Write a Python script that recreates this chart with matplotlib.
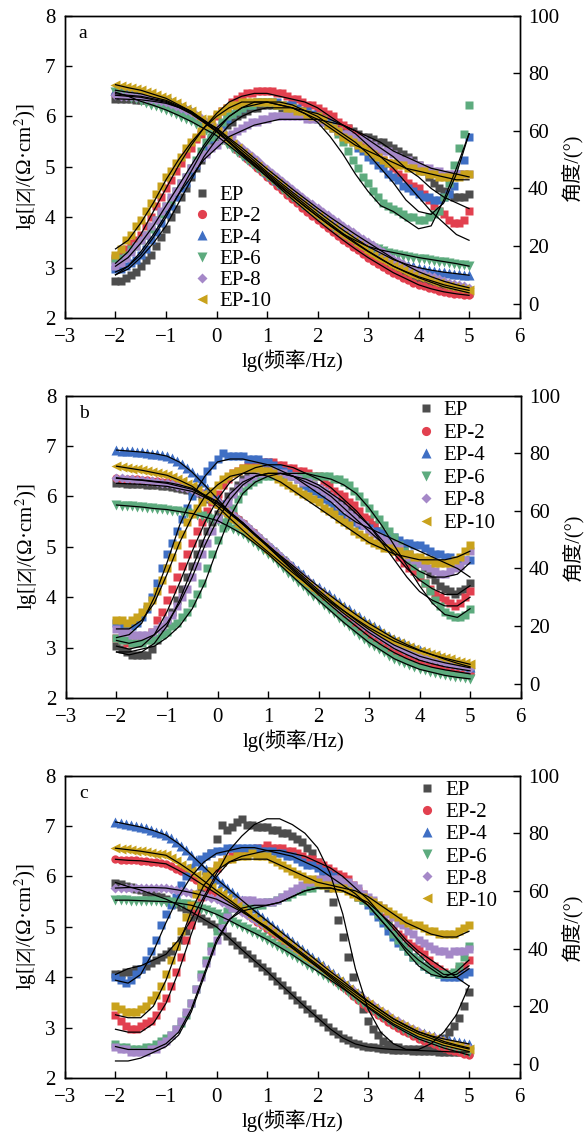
import numpy as np
import matplotlib
matplotlib.use("Agg")
import matplotlib.pyplot as plt
from matplotlib.lines import Line2D

plt.rcParams['font.family'] = ['Liberation Serif', 'Noto Sans CJK SC']
plt.rcParams['mathtext.fontset'] = 'stix'
plt.rcParams['axes.unicode_minus'] = True

# measurement grid (lg f) and fit-curve grid
lgf = np.linspace(-2, 5, 71)
lgf_fit = np.linspace(-2, 5, 29)

labels = ['EP', 'EP-2', 'EP-4', 'EP-6', 'EP-8', 'EP-10']
colors = ['#4d4d4d', '#e2404f', '#3f6fc4', '#5dab7e', '#a588c8', '#c9a21c']
zmarkers = ['s', 'o', '^', 'v', 'D', '<']
zsizes = [5.6, 6.0, 6.6, 6.6, 5.0, 6.6]

# ---------------- panel a : lg|Z| x100 ----------------
a_z_ep = [635,635,634,634,633, 633,632,631,629,628, 626,623,620,616,611, 605,598,591,584,577, 570,562,553,545,536, 528,520,512,503,495, 487,479,470,462,454, 446,438,430,422,414, 406,398,390,383,375, 368,361,354,347,340, 333,327,321,315,309, 303,298,293,289,284, 280,276,272,269,265, 262,259,257,255,252, 250]
a_z_ep2 = [645,644,643,642,641, 640,638,636,634,632, 630,626,621,616,612, 607,600,592,585,577, 570,561,552,543,534, 525,516,507,498,489, 480,471,462,454,445, 436,428,419,411,402, 394,386,378,370,363, 355,348,341,334,327, 320,314,308,302,296, 290,285,280,275,270, 266,263,260,257,254, 252,250,248,247,246, 245]
a_z_ep4 = [652,651,649,648,646, 645,642,640,637,635, 632,628,623,619,614, 610,603,596,589,582, 575,567,558,550,541, 533,524,516,507,499, 490,482,474,466,458, 450,442,435,427,420, 412,405,397,390,382, 375,368,362,355,349, 342,337,331,326,321, 316,313,309,306,303, 300,298,296,294,292, 291,290,288,287,286, 285]
a_z_ep6 = [648,644,641,637,634, 630,627,623,620,616, 613,608,604,599,595, 590,584,579,573,568, 562,554,546,538,530, 522,514,506,497,489, 481,473,465,457,449, 441,433,425,418,410, 402,395,388,381,374, 367,361,356,351,346, 342,339,336,333,330, 328,326,324,322,320, 318,317,315,314,312, 311,309,308,306,305, 303]
a_z_ep8 = [642,641,640,640,639, 638,636,634,632,630, 628,624,620,616,612, 608,602,596,589,583, 577,569,561,554,546, 538,530,521,513,504, 496,488,480,472,464, 456,448,441,433,426, 418,411,404,397,390, 383,376,370,363,357, 350,344,337,331,324, 318,313,308,302,297, 292,288,284,281,277, 273,270,268,265,263, 260]
a_z_ep10 = [663,661,659,656,654, 652,649,646,642,639, 636,631,626,620,615, 610,602,595,587,580, 572,563,554,546,537, 528,519,510,502,493, 484,476,467,459,450, 442,434,426,418,410, 402,395,387,380,372, 365,358,352,345,339, 332,326,320,315,309, 303,299,295,290,286, 282,279,276,272,269, 266,264,262,259,257, 255]
# panel a : phase angle (deg)
a_p_ep = [8,8,9,10,11, 13,15,17,20,23, 26,30,33,37,40, 44,47,50,53,55, 58,60,62,63,65, 66,67,68,68,69, 69,69,69,68,68, 68,67,67,66,65, 65,64,64,63,62, 61,61,60,59,58, 58,57,56,56,55, 54,53,52,51,50, 48,46,44,42,40, 39,38,37,37,37, 38]
a_p_ep2 = [16,17,19,21,22, 24,27,30,34,37, 40,43,46,49,52, 54,57,59,61,63, 65,67,68,70,71, 72,73,73,74,74, 74,74,73,73,72, 71,71,70,69,69, 68,67,66,65,63, 62,61,59,58,56, 55,53,52,50,49, 47,45,44,42,41, 40,38,36,34,32, 31,29,28,28,29, 32]
a_p_ep4 = [12,12,13,14,15, 17,19,22,25,28, 31,34,37,40,42, 45,48,51,54,57, 60,62,64,66,67, 68,69,69,70,70, 70,70,70,69,69, 69,68,67,67,66, 65,64,63,62,60, 59,58,56,54,53, 51,50,48,47,45, 44,43,41,40,39, 38,37,37,36,36, 37,38,41,45,50, 58]
a_p_ep6 = [15,16,17,19,20, 22,24,26,29,31, 34,36,39,42,44, 47,50,53,56,58, 61,63,65,66,67, 68,69,69,70,70, 70,70,69,69,68, 68,67,66,65,65, 64,63,62,61,59, 56,53,50,47,44, 42,39,37,35,34, 33,32,31,30,30, 29,29,30,31,32, 37,42,48,54,59, 69]
a_p_ep8 = [13,14,16,18,20, 22,24,27,29,32, 34,37,39,42,44, 47,49,51,52,54, 55,57,58,59,60, 61,62,63,63,64, 64,65,65,65,65, 65,65,65,64,64, 64,63,62,61,60, 59,59,58,57,57, 56,55,54,53,53, 52,51,50,50,49, 48,47,47,46,46, 45,45,45,45,45, 45]
a_p_ep10 = [17,19,22,24,27, 29,32,35,38,41, 44,46,49,51,54, 56,58,60,62,64, 66,67,68,69,69, 70,70,70,70,70, 70,70,69,69,68, 68,67,67,66,65, 65,64,62,61,60, 58,57,56,55,54, 53,52,51,50,49, 49,48,48,47,47, 46,46,45,45,44, 44,44,44,44,45, 45]
# panel a : fitted curves
a_fz_ep = [635,634,633,630,626,618,605,588,570,549,528,508,487,466,446,426,406,387,368,350,333,318,303,291,280,271,262,256,250]
a_fz_ep2 = [645,642,640,635,630,619,607,589,570,548,525,503,480,458,436,415,394,374,355,337,320,305,290,278,266,258,252,248,245]
a_fz_ep4 = [652,648,645,638,632,621,610,593,575,554,533,512,490,470,450,431,412,393,375,358,342,329,316,307,300,295,291,288,285]
a_fz_ep6 = [648,640,630,622,613,602,590,576,562,542,522,501,481,461,441,421,402,384,367,354,342,335,330,325,320,316,312,308,303]
a_fz_ep8 = [642,640,638,633,628,618,608,592,577,557,538,517,496,476,456,437,418,400,383,366,350,334,318,305,292,282,273,266,260]
a_fz_ep10 = [663,657,652,644,636,623,610,591,572,550,528,506,484,463,442,422,402,383,365,348,332,317,303,292,282,274,266,260,255]
a_fp_ep = [10,12,16,21,27,35,43,51,57,62,65,67,68,68,68,67,66,64,62,60,57,54,51,47,44,40,37,35,33]
a_fp_ep2 = [14,18,24,32,40,48,55,61,66,70,72,73,73,72,71,70,68,65,62,59,55,51,47,42,37,32,28,24,22]
a_fp_ep4 = [11,13,17,23,30,38,46,54,60,65,68,70,70,70,69,67,65,62,59,56,52,47,42,36,32,31,35,45,59]
a_fp_ep6 = [13,16,21,27,34,41,48,55,61,65,68,69,70,69,68,66,63,58,52,45,39,34,32,29,26,27,36,47,59]
a_fp_ep8 = [10,13,18,24,31,38,44,50,54,58,60,62,63,64,64,64,64,63,62,60,58,56,53,51,49,47,46,45,44]
a_fp_ep10 = [19,22,28,35,43,50,56,61,65,68,70,70,70,69,68,66,64,61,58,55,53,51,49,47,46,45,44,43,43]

# ---------------- panel b ----------------
b_z_ep = [626,626,625,625,624, 624,623,622,622,621, 620,618,616,614,612, 610,606,601,595,590, 585,577,569,561,553, 545,536,527,518,509, 500,491,482,473,464, 455,446,437,428,419, 410,401,393,384,376, 368,360,353,345,338, 330,324,317,311,304, 298,293,289,284,280, 275,272,270,267,265, 262,260,259,257,256, 254]
b_z_ep2 = [636,635,635,634,634, 633,632,631,630,629, 628,626,624,622,619, 616,612,606,601,596, 590,582,573,565,556, 548,538,529,519,510, 500,490,481,471,462, 452,443,433,424,414, 405,396,388,379,371, 362,354,346,338,330, 322,315,309,302,296, 290,285,281,276,272, 268,265,263,260,258, 256,254,253,251,250, 248]
b_z_ep4 = [692,691,690,690,689, 688,687,685,684,682, 680,676,671,665,657, 648,638,628,617,606, 595,585,574,564,555, 545,537,528,520,511, 503,495,487,478,470, 462,454,446,437,429, 421,413,406,398,391, 383,376,369,362,355, 348,342,336,330,324, 318,313,309,304,300, 295,291,288,284,281, 277,274,271,268,265, 262]
b_z_ep6 = [583,582,581,581,580, 579,578,577,576,575, 574,572,571,569,568, 566,564,561,558,555, 552,547,542,536,531, 525,517,509,502,494, 486,477,468,458,449, 440,431,422,412,403, 394,385,376,368,359, 350,342,334,326,318, 310,304,297,291,284, 278,274,270,265,261, 257,255,252,250,247, 245,244,242,241,239, 238]
b_z_ep8 = [637,636,635,634,633, 632,631,630,628,627, 626,624,621,619,616, 614,609,604,598,593, 588,580,572,564,556, 548,539,530,521,512, 503,494,485,476,467, 458,449,440,432,423, 414,406,398,389,381, 373,366,358,351,343, 336,330,324,317,311, 305,301,296,292,287, 283,280,278,275,273, 270,268,266,264,262, 260]
b_z_ep10 = [660,658,657,655,654, 652,650,648,646,644, 642,639,635,630,625, 620,613,605,597,589, 580,570,561,552,542, 533,524,516,507,499, 490,482,473,465,456, 448,440,432,424,416, 408,401,394,387,380, 373,366,360,353,347, 340,335,329,324,318, 313,309,305,301,298, 294,291,288,285,282, 279,277,274,272,269, 267]
b_p_ep = [13,12,11,10,10, 10,10,12,15,18, 21,25,29,33,37, 41,45,49,53,56, 59,62,65,67,69, 71,72,73,74,74, 75,74,74,73,73, 73,72,71,70,69, 68,67,66,65,64, 63,61,60,58,57, 56,55,53,52,51, 50,48,47,45,43, 42,40,38,36,34, 33,32,31,32,33, 35]
b_p_ep2 = [16,15,14,14,14, 15,16,18,22,25, 29,33,37,41,45, 49,53,56,60,63, 66,69,71,73,74, 75,76,76,77,77, 77,77,76,76,75, 75,74,74,73,72, 72,70,69,67,66, 65,63,62,60,58, 57,55,53,50,48, 46,44,42,40,39, 37,35,33,31,30, 29,28,27,28,30, 32]
b_p_ep4 = [21,20,20,20,21, 23,26,30,35,40, 45,49,53,57,61, 65,68,71,74,76, 78,80,79,79,79, 79,78,78,78,77, 77,76,75,74,73, 72,71,69,68,67, 66,64,63,61,60, 58,57,56,55,55, 54,53,53,52,51, 51,50,49,49,48, 48,47,46,45,45, 44,44,43,43,43, 43]
b_p_ep6 = [16,15,15,14,14, 14,15,15,16,17, 18,20,21,23,25, 28,31,35,40,45, 50,54,58,61,64, 67,69,70,71,72, 72,72,72,72,72, 72,72,72,72,72, 72,72,72,71,71, 70,69,67,65,63, 61,59,57,55,53, 51,48,46,43,41, 38,35,32,29,27, 25,24,23,23,24, 26]
b_p_ep8 = [19,18,18,17,17, 17,17,18,19,20, 22,24,27,30,33, 37,41,45,49,53, 57,60,63,66,68, 70,71,72,73,73, 74,74,73,73,72, 72,71,70,70,69, 68,67,65,64,62, 61,59,58,56,55, 53,52,51,50,49, 48,47,45,44,43, 42,41,40,39,38, 38,39,40,41,43, 46]
b_p_ep10 = [22,22,21,22,23, 25,27,29,32,36, 40,44,48,52,56, 59,61,63,65,67, 69,71,72,73,74, 75,75,75,75,74, 74,73,71,70,69, 68,67,66,65,64, 63,61,60,59,57, 56,55,53,52,51, 50,49,48,47,47, 46,46,45,45,44, 44,43,43,42,42, 42,42,43,44,46, 48]
b_fz_ep = [626,625,624,622,620,615,610,598,585,565,545,522,500,477,455,432,410,388,368,349,330,314,298,286,275,268,262,258,254]
b_fz_ep2 = [636,634,633,630,628,623,616,603,590,569,548,524,500,476,452,428,405,383,362,342,322,305,290,278,268,261,256,252,248]
b_fz_ep4 = [692,690,688,685,680,668,648,622,595,568,545,524,503,482,462,441,421,402,383,365,348,333,318,306,295,286,277,269,262]
b_fz_ep6 = [583,581,579,576,574,570,566,559,552,539,525,506,486,463,440,417,394,372,350,330,310,294,278,267,257,251,245,241,238]
b_fz_ep8 = [637,634,632,629,626,620,614,601,588,568,548,525,503,480,458,436,414,393,373,354,336,320,305,294,283,276,270,265,260]
b_fz_ep10 = [660,656,652,647,642,632,620,601,580,556,533,511,490,469,448,428,408,390,373,356,340,326,313,303,294,286,279,273,267]
b_fp_ep = [11,10,11,14,20,29,40,51,60,66,70,72,73,73,72,71,69,66,63,59,55,50,45,40,36,33,31,31,34]
b_fp_ep2 = [13,12,13,17,25,35,46,56,64,70,73,75,76,76,75,73,71,68,64,60,55,49,43,37,32,29,27,27,30]
b_fp_ep4 = [16,17,21,30,42,55,65,72,77,78,78,77,76,74,72,69,66,63,59,56,54,52,50,48,46,44,42,40,37]
b_fp_ep6 = [11,11,12,13,16,20,26,35,47,58,66,70,72,73,73,73,72,71,69,66,61,55,48,41,34,28,24,23,26]
b_fp_ep8 = [15,14,15,17,21,28,37,48,57,64,69,72,73,73,72,70,68,65,61,57,53,49,46,42,39,37,37,38,42]
b_fp_ep10 = [19,19,22,28,38,49,58,65,69,72,73,73,72,70,67,64,61,58,55,52,49,47,45,44,43,43,43,44,46]

# ---------------- panel c ----------------
c_z_ep = [588,585,582,579,576, 573,569,566,562,559, 555,550,545,540,535, 530,524,518,512,506, 500,491,482,473,464, 455,446,438,429,421, 412,403,393,384,374, 365,356,347,338,329, 320,311,302,294,287, 280,275,270,267,264, 262,261,260,259,258, 257,257,256,256,255, 255,254,254,254,253, 253,253,253,252,252, 252]
c_z_ep2 = [634,633,633,632,632, 631,630,629,628,626, 625,621,615,610,604, 598,592,585,579,572, 566,559,552,546,539, 532,525,518,510,503, 496,488,481,473,466, 458,450,443,435,428, 420,412,404,396,388, 380,372,364,356,348, 340,333,326,319,312, 305,300,294,289,283, 278,274,271,267,264, 260,257,254,252,249, 246]
c_z_ep4 = [708,706,704,702,700, 698,696,693,689,686, 682,676,669,661,652, 643,633,623,614,604, 595,587,578,570,561, 553,545,537,528,520, 512,504,496,488,480, 472,464,456,448,440, 432,424,416,408,401, 393,385,377,369,361, 353,346,339,332,325, 318,313,307,302,297, 292,289,286,283,280, 278,276,274,272,270, 268]
c_z_ep6 = [553,553,553,552,552, 552,552,551,551,550, 550,549,548,546,545, 543,540,536,533,529, 525,520,515,510,505, 500,495,490,485,480, 475,469,463,457,451, 445,438,432,425,419, 412,405,398,392,385, 378,371,364,356,349, 342,335,328,322,315, 308,303,298,292,287, 282,279,275,272,268, 265,263,260,258,255, 253]
c_z_ep8 = [577,577,578,578,578, 578,578,578,577,577, 577,576,574,572,570, 568,566,563,561,558, 555,550,545,540,535, 530,524,518,512,506, 500,493,485,478,470, 463,455,448,440,433, 425,418,410,403,395, 388,381,374,366,359, 352,345,338,332,325, 318,313,308,302,297, 292,288,284,281,277, 273,270,268,265,263, 260]
c_z_ep10 = [656,655,654,652,651, 650,648,647,645,644, 642,637,630,623,617, 610,602,595,587,580, 572,565,557,550,542, 535,528,520,513,505, 498,490,483,475,468, 460,452,445,437,430, 422,414,407,399,392, 384,377,369,362,354, 347,340,333,327,320, 313,308,303,298,293, 288,284,281,277,274, 270,268,265,263,260, 258]
c_p_ep = [31,31,32,32,33, 33,34,35,36,37, 38,39,41,43,46, 50,55,61,67,73, 78,83,81,82,84, 85,83,83,82,82, 82,81,81,80,80, 79,78,77,75,73, 70,66,61,56,50, 44,37,30,24,19, 15,12,10,8,7, 6,6,5,5,5, 5,5,6,6,7, 9,11,13,16,20, 25]
c_p_ep2 = [17,15,13,12,12, 13,14,15,17,20, 23,27,32,37,43, 48,53,58,62,65, 68,70,71,72,73, 73,74,74,75,75, 76,75,75,75,74, 74,73,72,71,71, 70,69,68,67,66, 65,64,62,60,59, 57,55,53,51,49, 47,45,44,42,41, 40,38,36,34,33, 32,31,31,33,34, 36]
c_p_ep4 = [30,29,28,29,31, 33,36,39,43,48, 52,55,58,62,65, 68,70,71,72,73, 74,74,75,75,75, 75,75,75,75,74, 74,74,73,73,72, 72,71,70,69,69, 68,67,66,65,64, 63,62,60,58,57, 55,53,51,49,46, 44,42,41,39,37, 36,34,33,32,31, 30,30,30,30,31, 32]
c_p_ep6 = [7,6,6,5,5, 5,6,6,7,8, 9,10,12,14,17, 21,26,31,36,41, 46,50,53,54,55, 55,55,55,55,55, 56,56,57,58,58, 59,60,60,61,61, 62,62,62,62,62, 61,61,60,58,57, 56,54,52,50,48, 45,43,41,39,37, 36,34,33,32,31, 31,31,32,34,37, 41]
c_p_ep8 = [6,5,5,4,4, 4,4,5,5,7, 8,10,12,15,18, 21,26,30,35,39, 43,47,51,54,56, 57,57,57,56,56, 56,56,57,58,59, 60,61,62,63,63, 64,64,64,64,64, 63,63,62,61,59, 58,57,55,54,52, 51,49,48,46,45, 43,42,41,40,39, 39,38,39,39,39, 40]
c_p_ep10 = [20,19,18,18,18, 19,20,22,24,27, 31,36,41,46,51, 55,59,62,65,67, 69,70,71,71,72, 72,72,73,72,72, 72,71,70,69,68, 67,66,65,64,64, 63,62,62,61,61, 61,60,59,58,58, 57,56,55,54,53, 52,51,50,49,48, 48,47,46,46,45, 45,45,45,46,47, 48]
c_fz_ep = [588,580,573,564,555,543,530,515,500,478,455,433,412,388,365,342,320,298,280,268,262,259,257,256,255,254,253,252,252]
c_fz_ep2 = [634,632,631,628,625,612,598,582,566,549,532,514,496,477,458,439,420,400,380,360,340,322,305,291,278,269,260,253,246]
c_fz_ep4 = [708,703,698,691,682,665,643,619,595,574,553,532,512,492,472,452,432,412,393,373,353,335,318,304,292,284,278,273,268]
c_fz_ep6 = [553,553,552,551,550,547,543,535,525,513,500,488,475,460,445,428,412,395,378,360,342,325,308,295,282,274,265,259,253]
c_fz_ep8 = [577,578,578,578,577,573,568,562,555,543,530,515,500,481,463,444,425,406,388,370,352,335,318,305,292,283,273,266,260]
c_fz_ep10 = [656,653,650,646,642,627,610,591,572,554,535,516,498,479,460,441,422,403,384,365,347,330,313,300,288,279,270,264,258]
c_fp_ep = [31,33,34,36,38,43,50,58,66,74,79,83,85,85,83,80,75,66,52,33,19,11,7,5,5,7,11,17,27]
c_fp_ep2 = [12,11,11,14,21,32,45,57,65,70,72,73,74,74,73,72,70,68,65,61,57,52,47,42,38,34,31,31,34]
c_fp_ep4 = [29,28,31,39,49,58,65,70,73,74,75,75,74,73,72,70,68,65,62,59,55,50,45,40,36,33,30,30,33]
c_fp_ep6 = [6,5,5,5,7,11,19,31,43,50,53,54,55,56,58,60,61,61,60,58,55,50,45,39,34,31,30,32,36]
c_fp_ep8 = [1,1,2,4,6,10,18,30,42,50,54,55,55,56,58,60,61,61,60,58,56,52,48,43,39,36,33,30,27]
c_fp_ep10 = [17,16,16,20,29,41,53,62,67,70,71,71,71,69,67,65,63,62,61,60,58,55,52,49,47,45,44,44,46]

panels = [
    dict(tag='a',
         z=[a_z_ep, a_z_ep2, a_z_ep4, a_z_ep6, a_z_ep8, a_z_ep10],
         p=[a_p_ep, a_p_ep2, a_p_ep4, a_p_ep6, a_p_ep8, a_p_ep10],
         fz=[a_fz_ep, a_fz_ep2, a_fz_ep4, a_fz_ep6, a_fz_ep8, a_fz_ep10],
         fp=[a_fp_ep, a_fp_ep2, a_fp_ep4, a_fp_ep6, a_fp_ep8, a_fp_ep10],
         rect=[0.1111, 0.7193, 0.777, 0.2669], leg=(0.282, 0.438), ls=0.08),
    dict(tag='b',
         z=[b_z_ep, b_z_ep2, b_z_ep4, b_z_ep6, b_z_ep8, b_z_ep10],
         p=[b_p_ep, b_p_ep2, b_p_ep4, b_p_ep6, b_p_ep8, b_p_ep10],
         fz=[b_fz_ep, b_fz_ep2, b_fz_ep4, b_fz_ep6, b_fz_ep8, b_fz_ep10],
         fp=[b_fp_ep, b_fp_ep2, b_fp_ep4, b_fp_ep6, b_fp_ep8, b_fp_ep10],
         rect=[0.1128, 0.3839, 0.777, 0.2669], leg=(0.773, 0.983), ls=0.14),
    dict(tag='c',
         z=[c_z_ep, c_z_ep2, c_z_ep4, c_z_ep6, c_z_ep8, c_z_ep10],
         p=[c_p_ep, c_p_ep2, c_p_ep4, c_p_ep6, c_p_ep8, c_p_ep10],
         fz=[c_fz_ep, c_fz_ep2, c_fz_ep4, c_fz_ep6, c_fz_ep8, c_fz_ep10],
         fp=[c_fp_ep, c_fp_ep2, c_fp_ep4, c_fp_ep6, c_fp_ep8, c_fp_ep10],
         rect=[0.1111, 0.0483, 0.777, 0.2672], leg=(0.779, 0.983), ls=0.12),
]

FS = 15
fig = plt.figure(figsize=(5.85, 11.33), dpi=100)

for P in panels:
    ax = fig.add_axes(P['rect'])
    ax2 = ax.twinx()
    ax.set_xlim(-3, 6)
    ax.set_ylim(2, 8)
    ax2.set_ylim(-5, 100)
    ax.set_xticks(range(-3, 7))
    ax.set_yticks(range(2, 9))
    ax2.set_yticks(range(0, 101, 20))
    ax.tick_params(axis='both', direction='in', length=5, width=1, labelsize=FS, pad=7,
                   top=False, right=False)
    ax2.tick_params(axis='y', direction='in', length=5, width=1, labelsize=FS, pad=6)
    for sp in list(ax.spines.values()) + list(ax2.spines.values()):
        sp.set_linewidth(1.0)

    # data markers
    for i in range(6):
        z = np.array(P['z'][i]) / 100.0
        ph = np.array(P['p'][i], dtype=float)
        assert len(z) == 71 and len(ph) == 71, (P['tag'], i)
        ax2.plot(lgf, z, linestyle='none', marker=zmarkers[i], ms=zsizes[i],
                 mfc=colors[i], mec='none', color=colors[i], transform=ax.transData, clip_on=False)
        ax2.plot(lgf, ph, linestyle='none', marker='s', ms=5.6, mfc=colors[i], mec='none',
                 color=colors[i], clip_on=False)
    # fitted curves
    for i in range(6):
        fz = np.array(P['fz'][i]) / 100.0
        fp = np.array(P['fp'][i], dtype=float)
        assert len(fz) == 29 and len(fp) == 29, (P['tag'], i)
        ax2.plot(lgf_fit, fz, color='black', lw=0.9, transform=ax.transData)
        ax2.plot(lgf_fit, fp, color='black', lw=0.9)

    ax.set_xlabel('lg(频率/Hz)', fontsize=FS, labelpad=2)
    ax.set_ylabel('lg[|$Z$|/(Ω·cm$^2$)]', fontsize=FS, labelpad=4)
    ax2.set_ylabel('角度/(°)', fontsize=FS - 0.5, labelpad=1)
    ax.text(0.04, 0.94, P['tag'], transform=ax.transAxes, fontsize=FS - 1,
            ha='center', va='center')

    handles = [Line2D([], [], linestyle='none', marker=zmarkers[i], color=colors[i],
                      mec='none', ms=zsizes[i] + 0.6) for i in range(6)]
    ax2.legend(handles, labels, loc='upper left', bbox_to_anchor=P['leg'],
               frameon=False, fontsize=15, handlelength=0.8, handletextpad=0.45,
               labelspacing=P['ls'], borderpad=0, borderaxespad=0)

fig.savefig('out.png', dpi=100)
